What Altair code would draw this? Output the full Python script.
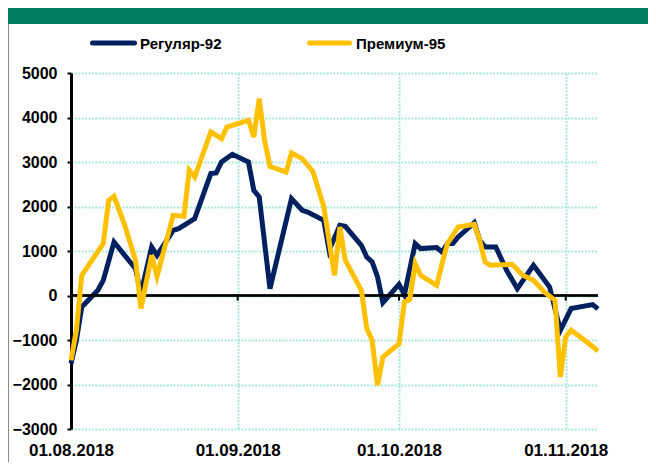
import altair as alt
import pandas as pd

# ---- data ----
series_names = ["Регуляр-92", "Премиум-95"]
series_colors = ["#002060", "#FFC000"]

reg_dates = ["2018-08-01", "2018-08-02", "2018-08-03", "2018-08-06", "2018-08-07", "2018-08-09",
             "2018-08-13", "2018-08-14", "2018-08-16", "2018-08-17", "2018-08-20", "2018-08-21",
             "2018-08-22", "2018-08-24", "2018-08-27", "2018-08-28", "2018-08-29", "2018-08-31",
             "2018-09-03", "2018-09-04", "2018-09-05", "2018-09-07", "2018-09-11", "2018-09-13",
             "2018-09-14", "2018-09-17", "2018-09-18", "2018-09-20", "2018-09-21", "2018-09-24",
             "2018-09-25", "2018-09-26", "2018-09-27", "2018-09-28", "2018-10-01", "2018-10-02",
             "2018-10-04", "2018-10-05", "2018-10-08", "2018-10-09", "2018-10-10", "2018-10-11",
             "2018-10-12", "2018-10-15", "2018-10-16", "2018-10-17", "2018-10-19", "2018-10-21",
             "2018-10-23", "2018-10-26", "2018-10-29", "2018-10-31", "2018-11-02", "2018-11-06",
             "2018-11-07"]
reg_values = [-1530, -1007, -258, 117, 341, 1202,
              600, 50, 1090, 903, 1465, 1503,
              1578, 1728, 2739, 2753, 3000, 3173,
              3000, 2364, 2213, 155, 2177, 1915,
              1876, 1690, 1016, 1578, 1555, 1128,
              865, 753, 416, -160, 250, 20,
              1166, 1054, 1076, 978, 1166, 1166,
              1315, 1638, 1240, 1090, 1090, 566,
              155, 679, 191, -782, -294, -204,
              -300]

prem_dates = ["2018-08-01", "2018-08-02", "2018-08-03", "2018-08-07", "2018-08-08", "2018-08-09",
              "2018-08-11", "2018-08-13", "2018-08-14", "2018-08-16", "2018-08-17", "2018-08-20",
              "2018-08-22", "2018-08-23", "2018-08-24", "2018-08-27", "2018-08-29", "2018-08-30",
              "2018-09-03", "2018-09-04", "2018-09-05", "2018-09-06", "2018-09-07", "2018-09-10",
              "2018-09-11", "2018-09-13", "2018-09-15", "2018-09-17", "2018-09-19", "2018-09-20",
              "2018-09-21", "2018-09-24", "2018-09-25", "2018-09-26", "2018-09-27", "2018-09-28",
              "2018-10-01", "2018-10-02", "2018-10-03", "2018-10-04", "2018-10-05", "2018-10-08",
              "2018-10-09", "2018-10-10", "2018-10-12", "2018-10-15", "2018-10-16", "2018-10-17",
              "2018-10-18", "2018-10-22", "2018-10-24", "2018-10-26", "2018-10-28", "2018-10-30",
              "2018-10-31", "2018-11-01", "2018-11-02", "2018-11-05", "2018-11-07"]
prem_values = [-1456, -782, 454, 1166, 2139, 2229,
               1578, 791, -294, 903, 431, 1802,
               1780, 2813, 2663, 3674, 3525, 3786,
               3937, 3561, 4425, 3488, 2903, 2775,
               3202, 3076, 2780, 2000, 454, 1540,
               791, 117, -744, -1007, -2018, -1382,
               -1081, -146, -92, 716, 454, 229,
               716, 1166, 1540, 1600, 1240, 753,
               679, 701, 454, 341, 79, -108,
               -1831, -933, -780, -1050, -1247]

month_ticks = ["2018-08-01", "2018-09-01", "2018-10-01", "2018-11-01"]
y_ticks = [-3000, -2000, -1000, 0, 1000, 2000, 3000, 4000, 5000]

df = pd.concat([
    pd.DataFrame({"date": reg_dates, "value": reg_values, "series": series_names[0]}),
    pd.DataFrame({"date": prem_dates, "value": prem_values, "series": series_names[1]}),
], ignore_index=True)
months_df = pd.DataFrame({"date": month_ticks[1:], "value": [0] * 3, "low": [-115] * 3})
one = pd.DataFrame({"a": [0]})

W, H = 527, 356
FONT = "Liberation Sans"
GRID = "#a8e8d8"
DASH = [2, 1.4]

xscale = alt.Scale(type="utc", domain=["2018-08-01", "2018-11-07"])
yscale = alt.Scale(domain=[-3000, 5000], nice=False, zero=False)
cscale = alt.Scale(domain=series_names, range=series_colors)

x_axis = alt.Axis(values=month_ticks, labelExpr="utcFormat(datum.value, '%d.%m.%Y')",
                  title=None, domain=False, ticks=False, labelFlush=False,
                  labelFont=FONT, labelFontSize=17, labelFontWeight="bold",
                  labelColor="black", labelPadding=13,
                  grid=True, gridColor=GRID, gridDash=DASH, gridWidth=2)
y_axis = alt.Axis(values=y_ticks, format="d", title=None, domainColor="black", domainWidth=3,
                  tickColor="black", tickSize=4, tickWidth=2, labelFont=FONT,
                  labelFontSize=16, labelFontWeight="bold", labelColor="black",
                  labelPadding=10, grid=True, gridColor=GRID, gridDash=DASH, gridWidth=2)

X = alt.X("date:T", scale=xscale, axis=x_axis)
Y = alt.Y("value:Q", scale=yscale, axis=y_axis)

base_line = alt.Chart(df).mark_line(strokeWidth=5, strokeJoin="miter")

reg_line = base_line.transform_filter(alt.datum.series == series_names[0]).encode(
    x=X, y=Y, color=alt.Color("series:N", scale=cscale, legend=None),
)
prem_line = base_line.transform_filter(alt.datum.series == series_names[1]).encode(
    x=X, y=Y, color=alt.Color("series:N", scale=cscale, legend=None),
)

zero_line = alt.Chart(months_df).mark_rule(color="black", strokeWidth=2).encode(
    y=Y,
)
zero_ticks = alt.Chart(months_df).mark_rule(color="black", strokeWidth=2).encode(
    x=X, y=Y, y2=alt.Y2("low:Q"),
)

header = alt.Chart(one).mark_rect(color="#007f60").encode(
    x=alt.value(-63), x2=alt.value(577), y=alt.value(-65), y2=alt.value(-49)
)
frame = alt.Chart(one).mark_rule(color="#8a8a8a", strokeWidth=1).encode(
    x=alt.value(-62.5), y=alt.value(-49), y2=alt.value(389)
)

legend_layers = []
for name, color, x0, x1, tx in [(series_names[0], series_colors[0], 21.5, 63.5, 69),
                                (series_names[1], series_colors[1], 238.5, 278.5, 285)]:
    legend_layers.append(alt.Chart(one).mark_rule(color=color, strokeWidth=5, strokeCap="round").encode(
        x=alt.value(x0), x2=alt.value(x1), y=alt.value(-30)))
    legend_layers.append(alt.Chart(one).mark_text(
        text=name, align="left", baseline="middle", font=FONT, fontSize=15,
        fontWeight="bold", color="black").encode(x=alt.value(tx), y=alt.value(-29)))

chart = alt.layer(
    reg_line, zero_line, zero_ticks, prem_line, header, frame, *legend_layers
).properties(
    width=W, height=H,
    autosize=alt.AutoSizeParams(type="none"),
    padding={"left": 63, "top": 65, "right": 50, "bottom": 33},
    background="white",
).configure_view(stroke=None)

chart.save("out.html", embed_options={"renderer": "svg", "actions": False})
